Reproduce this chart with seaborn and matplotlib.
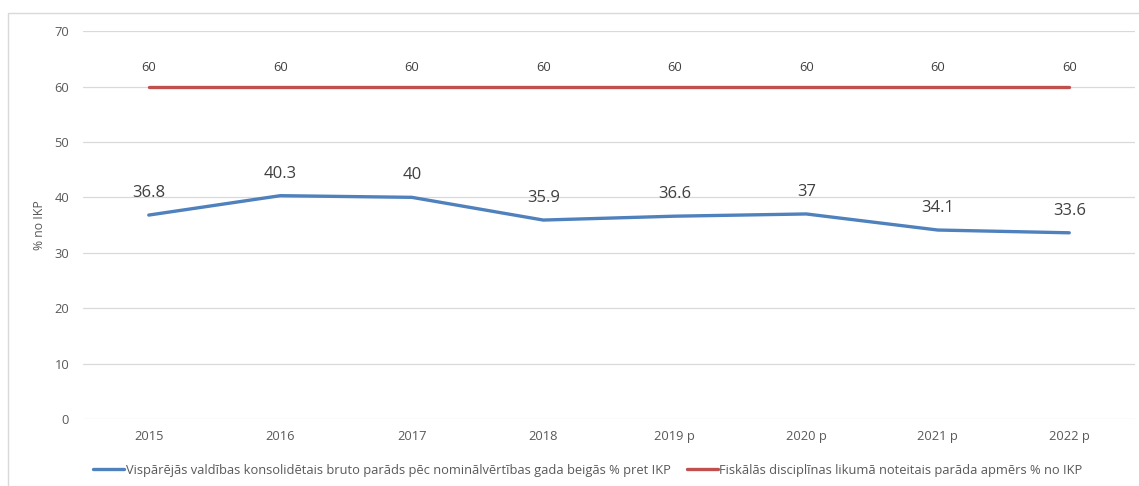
import pandas as pd
import seaborn as sns
import matplotlib.pyplot as plt
from matplotlib.patches import Rectangle

years = ["2015", "2016", "2017", "2018", "2019 p", "2020 p", "2021 p", "2022 p"]
debt = [36.8, 40.3, 40.0, 35.9, 36.6, 37.0, 34.1, 33.6]
limit = [60, 60, 60, 60, 60, 60, 60, 60]
debt_labels = ["36.8", "40.3", "40", "35.9", "36.6", "37", "34.1", "33.6"]

name_debt = "Vispārējās valdības konsolidētais bruto parāds pēc nominālvērtības gada beigās % pret IKP"
name_limit = "Fiskālās disciplīnas likumā noteitais parāda apmērs % no IKP"

sns.set_theme(style="white")
plt.rcParams['font.family'] = ['Open Sans', 'DejaVu Sans']

df = pd.DataFrame({
    "pos": list(range(len(years))) * 2,
    "value": debt + limit,
    "series": [name_debt] * len(years) + [name_limit] * len(years),
})

fig = plt.figure(figsize=(11.39, 4.86), dpi=100)
ax = fig.add_axes([0.0729, 0.1379, 0.9236, 0.7981])

colors = {name_debt: "#4F81BD", name_limit: "#C0504D"}
sns.lineplot(data=df, x="pos", y="value", hue="series", palette=colors,
             linewidth=2.4, ax=ax, legend=True)

ax.set_xlim(-0.5, len(years) - 0.5)
ax.set_ylim(0, 70)
ax.set_yticks(range(0, 71, 10))
ax.set_xticks(range(len(years)))
ax.set_xticklabels(years)
ax.tick_params(axis="both", labelsize=9.3, colors="#595959", length=0)
ax.tick_params(axis="y", pad=10)
ax.tick_params(axis="x", pad=8)
ax.grid(axis="y", color="#D9D9D9", linewidth=0.9)
ax.set_axisbelow(True)
for s in ax.spines.values():
    s.set_visible(False)
ax.set_xlabel("")
ax.set_ylabel("% no IKP", fontsize=8.8, color="#595959", labelpad=6)

for i, (v, t) in enumerate(zip(debt, debt_labels)):
    ax.annotate(t, (i, v), xytext=(0, 10), textcoords="offset points",
                ha="center", va="bottom", fontsize=12, color="#404040")
for i, v in enumerate(limit):
    ax.annotate(str(v), (i, v), xytext=(0, 9), textcoords="offset points",
                ha="center", va="bottom", fontsize=9.3, color="#404040")

leg = ax.legend(loc="upper center", bbox_to_anchor=(0.48, -0.085), ncol=2,
                frameon=False, fontsize=9.3, handlelength=2.4, handletextpad=0.15,
                columnspacing=1.2, labelcolor="#595959")
for line in leg.get_lines():
    line.set_linewidth(2.4)

fig.patches.append(Rectangle((0.007, -0.1), 1.1, 1.073, transform=fig.transFigure,
                             fill=False, edgecolor="#D9D9D9", linewidth=1.0))

fig.savefig("out.png", dpi=100)
